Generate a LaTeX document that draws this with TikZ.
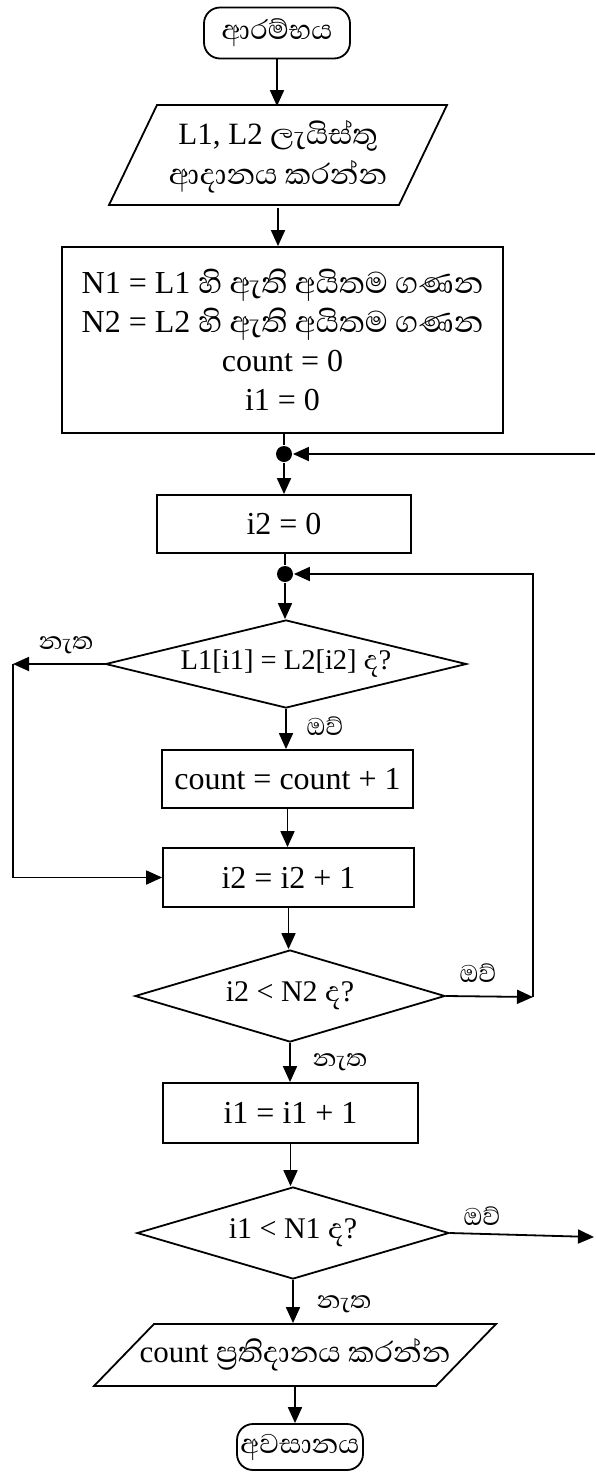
\documentclass[tikz,border=0pt]{standalone}
\usepackage{fontspec}
\setmainfont{Liberation Serif}
\newfontfamily\sinfont[Script=Sinhala,Scale=1.2]{Abhaya Libre}
\newcommand{\sn}[1]{{\sinfont #1}}
\usetikzlibrary{shapes.geometric,arrows.meta}
\begin{document}
\begin{tikzpicture}[x=1pt,y=-1pt,
  line width=1.8pt,
  arr/.style={-{Triangle[length=16pt,width=14pt]}},
  term/.style={draw, rounded corners=16pt, inner sep=0pt, font=\fontsize{29}{33}\selectfont},
  procbox/.style={draw, inner sep=0pt, align=center, font=\fontsize{32}{39}\selectfont},
  decbox/.style={draw, diamond, inner sep=0pt, aspect=3.5, font=\fontsize{30}{36}\selectfont},
  iobox/.style={inner sep=0pt, align=center, font=\fontsize{31}{40}\selectfont},
  lbl/.style={inner sep=0pt, font=\fontsize{26}{30}\selectfont},
  jdot/.style={circle, fill, inner sep=0pt, minimum size=16pt}
]
\useasboundingbox (0,0) rectangle (595,1476);

% nodes
\node[term, minimum width=146pt, minimum height=51pt] (start) at (277,33) {\sn{ආරම්භය}};
\node[iobox, minimum width=240pt, minimum height=100pt] (in1) at (278,157)
  {L1, L2 \sn{ලැයිස්තු}\\\sn{ආදානය කරන්න}};
\draw[shift={(in1.center)}] (-121,-52) -- (169,-52) -- (121,48) -- (-169,48) -- cycle;

\node[procbox, minimum width=441pt, minimum height=186pt] (box1) at (282.5,340)
  {N1 = L1 \sn{හි ඇති අයිතම ගණන}\\N2 = L2 \sn{හි ඇති අයිතම ගණන}\\count = 0\\i1 = 0};
\node[jdot] (dot1) at (284,454) {};
\node[procbox, minimum width=254pt, minimum height=58pt] (i2z) at (284,524) {i2 = 0};
\node[jdot] (dot2) at (285,574) {};
\node[decbox, minimum width=361pt, minimum height=88pt, font=\fontsize{28.5}{34}\selectfont] (d1) at (286,664)
  {L1[i1] = L2[i2] \sn{ද}?};
\node[procbox, minimum width=251pt, minimum height=58pt] (cnt) at (287.5,779) {count = count + 1};
\node[procbox, minimum width=251pt, minimum height=59pt] (i2p) at (288.5,877.5) {i2 = i2 + 1};
\node[decbox, minimum width=310pt, minimum height=92pt] (d2) at (290,996) {i2 < N2 \sn{ද}?};
\node[procbox, minimum width=255pt, minimum height=60pt] (i1p) at (290.5,1113) {i1 = i1 + 1};
\node[decbox, minimum width=312pt, minimum height=92pt] (d3) at (293,1233) {i1 < N1 \sn{ද}?};
\node[iobox, minimum width=280pt, minimum height=62pt] (out) at (295,1355)
  {count \sn{ප්‍රතිදානය කරන්න}};
\draw[shift={(out.center)}] (-141,-31) -- (201,-31) -- (141,31) -- (-201,31) -- cycle;
\node[term, minimum width=126pt, minimum height=46pt] (end) at (300,1447) {\sn{අවසානය}};

% free ends
\coordinate (r1) at (595,454);
\coordinate (c1) at (13,664);
\coordinate (c2) at (533,997);
\coordinate (r3) at (594,1237);

% connectors
\draw[arr] (start.south) -- (start.south |- in1.north);
\draw[arr] (in1.south) -- (in1.south |- box1.north);
\draw (box1.south -| dot1) -- (dot1);
\draw[arr] (r1) -- (dot1);
\draw[arr] (dot1) -- (dot1 |- i2z.north);
\draw (i2z.south -| dot2) -- (dot2);
\draw[arr] (dot2) -- (dot2 |- d1.north);

\draw[arr] (d1.west) -- (c1);
\draw[arr] (c1) -- (c1 |- i2p.west) -- (i2p.west);
\draw[arr] (d1.south) -- (d1.south |- cnt.north);
\draw[arr] (cnt.south) -- (cnt.south |- i2p.north);
\draw[arr] (i2p.south) -- (i2p.south |- d2.north);

\draw[arr] (d2.east) -- (c2);
\draw[arr] (c2) -- (c2 |- dot2) -- (dot2);
\draw[arr] (d2.south) -- (d2.south |- i1p.north);
\draw[arr] (i1p.south) -- (i1p.south |- d3.north);
\draw[arr] (d3.east) -- (r3);
\draw[arr] (d3.south) -- (d3.south |- out.north);
\draw[arr] (out.south) -- (out.south |- end.north);

% labels
\node[lbl] (l1) at (66,645) {\sn{නැත}};
\node[lbl] (l2) at (325,726) {\sn{ඔව්}};
\node[lbl] (l3) at (478,973) {\sn{ඔව්}};
\node[lbl] (l4) at (340,1062) {\sn{නැත}};
\node[lbl] (l5) at (482,1216) {\sn{ඔව්}};
\node[lbl] (l6) at (344,1304) {\sn{නැත}};
\end{tikzpicture}
\end{document}
